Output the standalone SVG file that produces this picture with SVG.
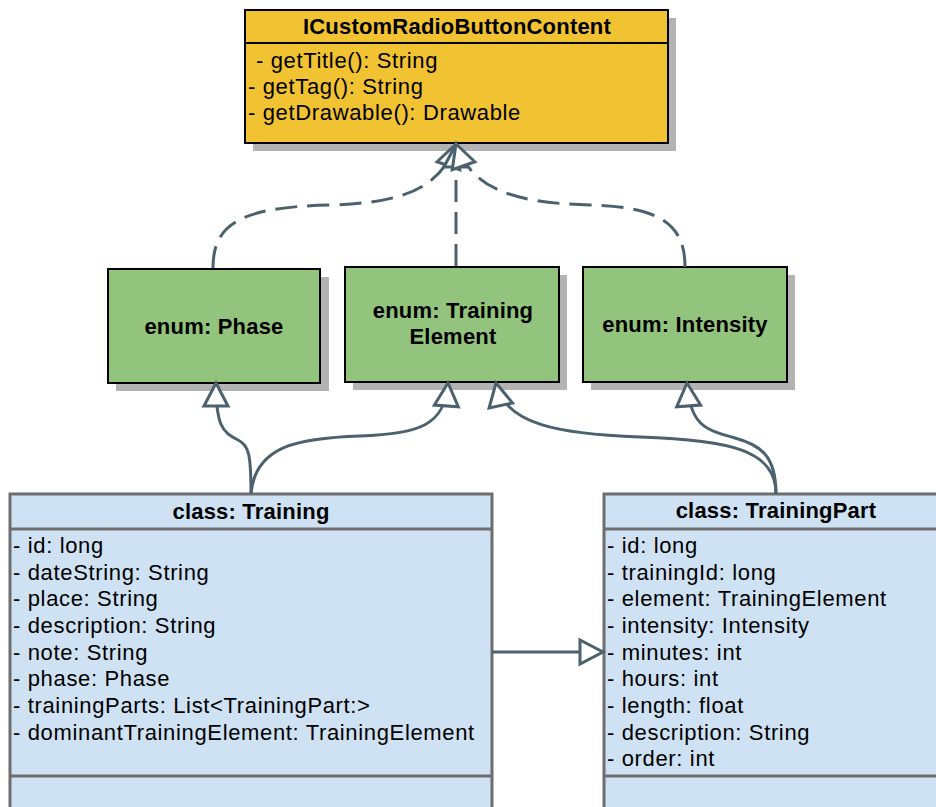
<svg xmlns="http://www.w3.org/2000/svg" width="936" height="807" viewBox="0 0 936 807">
<style>
  .shadow { fill: #b3b3b3; }
  .iface { fill: #f1c232; stroke: #000; stroke-width: 2; }
  .enum { fill: #93c47d; stroke: #000; stroke-width: 2; }
  .cls { fill: #cfe2f3; stroke: #6e6e6e; stroke-width: 3; }
  .div { stroke: #000; stroke-width: 2; }
  .cdiv { stroke: #6e6e6e; stroke-width: 3; }
  text { font-family: "Liberation Sans", Arial, sans-serif; font-size: 22px; fill: #000; }
  .b { font-weight: bold; letter-spacing: 0.2px; }
  .a { letter-spacing: 0.65px; }
  .mid { text-anchor: middle; }
  .edge { fill: none; stroke: #4b626e; stroke-width: 3; }
  .dash { stroke-dasharray: 22 10; }
</style>
<defs>
  <marker id="tri" markerUnits="userSpaceOnUse" viewBox="0 0 30 30" markerWidth="30" markerHeight="30" refX="26" refY="15" orient="auto" overflow="visible">
    <path d="M3,3 L26,15 L3,27 Z" fill="#fff" stroke="#4b626e" stroke-width="3" stroke-dasharray="none" stroke-linejoin="miter"/>
  </marker>
</defs>

<g id="ICustomRadioButtonContent">
  <rect class="shadow" x="253" y="18" width="423" height="133"/>
  <rect class="iface" x="245" y="10" width="423" height="133"/>
  <line class="div" x1="245" y1="43" x2="668" y2="43"/>
  <text class="b mid" x="457" y="34">ICustomRadioButtonContent</text>
  <text class="a" x="256" y="68">- getTitle(): String</text>
  <text class="a" x="248" y="94">- getTag(): String</text>
  <text class="a" x="248" y="120">- getDrawable(): Drawable</text>
</g>

<g id="enum-Phase">
  <rect class="shadow" x="116" y="277" width="213" height="114"/>
  <rect class="enum" x="108" y="269" width="212" height="114"/>
  <text class="b mid" x="214" y="334">enum: Phase</text>
</g>

<g id="enum-TrainingElement">
  <rect class="shadow" x="353" y="275" width="214" height="115"/>
  <rect class="enum" x="345" y="267" width="214" height="115"/>
  <text class="b mid" x="453" y="318">enum: Training</text>
  <text class="b mid" x="453" y="344">Element</text>
</g>

<g id="enum-Intensity">
  <rect class="shadow" x="591" y="275" width="204" height="115"/>
  <rect class="enum" x="583" y="267" width="204" height="115"/>
  <text class="b mid" x="685" y="332">enum: Intensity</text>
</g>

<g id="class-Training">
  <rect class="cls" x="10" y="494" width="482" height="340"/>
  <line class="cdiv" x1="10" y1="529" x2="492" y2="529"/>
  <line class="cdiv" x1="10" y1="776" x2="492" y2="776"/>
  <text class="b mid" x="251" y="519">class: Training</text>
  <text class="a" x="13" y="553">- id: long</text>
  <text class="a" x="13" y="580">- dateString: String</text>
  <text class="a" x="13" y="606">- place: String</text>
  <text class="a" x="13" y="633">- description: String</text>
  <text class="a" x="13" y="660">- note: String</text>
  <text class="a" x="13" y="686">- phase: Phase</text>
  <text class="a" x="13" y="713">- trainingParts: List&lt;TrainingPart:&gt;</text>
  <text class="a" x="13" y="740">- dominantTrainingElement: TrainingElement</text>
</g>

<g id="class-TrainingPart">
  <rect class="cls" x="604" y="494" width="346" height="340"/>
  <line class="cdiv" x1="604" y1="529" x2="950" y2="529"/>
  <line class="cdiv" x1="604" y1="776" x2="950" y2="776"/>
  <text class="b mid" x="776" y="518">class: TrainingPart</text>
  <text class="a" x="607" y="553">- id: long</text>
  <text class="a" x="607" y="580">- trainingId: long</text>
  <text class="a" x="607" y="606">- element: TrainingElement</text>
  <text class="a" x="607" y="633">- intensity: Intensity</text>
  <text class="a" x="607" y="660">- minutes: int</text>
  <text class="a" x="607" y="686">- hours: int</text>
  <text class="a" x="607" y="713">- length: float</text>
  <text class="a" x="607" y="740">- description: String</text>
  <text class="a" x="607" y="766">- order: int</text>
</g>

<g id="connectors">
  <path class="edge dash" d="M213,268 C213,224 240,207 330,205 C400,203 440,190 456,144" marker-end="url(#tri)"/>
  <path class="edge dash" d="M456,266 L456,144" marker-end="url(#tri)"/>
  <path class="edge dash" d="M685,267 C685,224 660,207 590,205 C515,203 472,190 456,144" marker-end="url(#tri)"/>
  <path class="edge" d="M251,494 C251,455 249,445 238,440 C222,432 216,425 216,383" marker-end="url(#tri)"/>
  <path class="edge" d="M251,494 C255,445 300,438 360,436 C420,434 445,425 448,383" marker-end="url(#tri)"/>
  <path class="edge" d="M776,494 C776,450 730,440 640,437 C560,434 505,425 496,383" marker-end="url(#tri)"/>
  <path class="edge" d="M776,494 C776,455 760,445 735,438 C705,430 690,425 687,383" marker-end="url(#tri)"/>
  <path class="edge" d="M492,652 L603,652" marker-end="url(#tri)"/>
</g>
</svg>
